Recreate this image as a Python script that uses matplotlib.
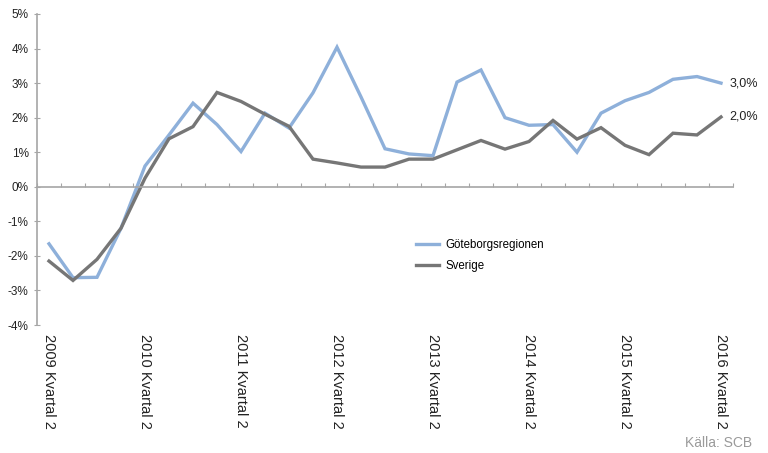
import matplotlib.pyplot as plt
import matplotlib.transforms as mtransforms

plt.rcParams['font.family'] = ['Liberation Sans', 'DejaVu Sans']

# kvartal 2009 K2 .. 2016 K2
years = list(range(2009, 2017))
n_quarters = 29
tick_labels = [f'{y} Kvartal 2' for y in years]

goteborg = [-1.65, -2.63, -2.62, -1.2, 0.6, 1.5, 2.42, 1.8, 1.02, 2.13,
            1.7, 2.72, 4.04, 2.6, 1.1, 0.95, 0.9, 3.03, 3.38, 2.0,
            1.78, 1.8, 1.0, 2.13, 2.49, 2.73, 3.11, 3.19, 3.0]
sverige = [-2.15, -2.71, -2.1, -1.2, 0.25, 1.39, 1.74, 2.73, 2.47, 2.1,
           1.75, 0.8, 0.69, 0.57, 0.57, 0.8, 0.8, 1.07, 1.34, 1.09,
           1.31, 1.92, 1.38, 1.71, 1.2, 0.93, 1.55, 1.5, 2.02]

blue = '#8eb0da'
grey = '#767676'
axis_col = '#a6a6a6'

fig = plt.figure(figsize=(7.68, 4.53), dpi=100)
ax = fig.add_axes([37/768, 1 - 325/453, (733-37)/768, (325-14)/453])

x = list(range(n_quarters))
ax.plot(x, goteborg, color=blue, lw=2.4, label='Göteborgsregionen', solid_joinstyle='miter')
ax.plot(x, sverige, color=grey, lw=2.4, label='Sverige', solid_joinstyle='miter')

ax.set_xlim(-0.5, n_quarters - 0.5)
ax.set_ylim(-4, 5)
ax.set_yticks(range(-4, 6))
ax.set_yticklabels([f'{v}%' for v in range(-4, 6)], fontsize=8.5, color='#222222')

for s in ['top', 'right']:
    ax.spines[s].set_visible(False)
ax.spines['left'].set_color(axis_col)
ax.spines['bottom'].set_color(axis_col)
ax.spines['bottom'].set_position(('data', 0))
ax.spines['left'].set_linewidth(1.2)
ax.spines['bottom'].set_linewidth(1.2)

ax.set_xticks([i - 0.5 for i in range(n_quarters + 1)])
ax.set_xticklabels([])
ax.tick_params(axis='x', direction='in', length=3, color=axis_col)
ax.tick_params(axis='y', direction='inout', length=4, color=axis_col, pad=4)

trans = mtransforms.blended_transform_factory(ax.transData, ax.transAxes)
for i, lab in enumerate(tick_labels):
    ax.text(i * 4, -0.03, lab, transform=trans, rotation=270,
            ha='center', va='top', fontsize=10.5, color='#222222')

# slutvärden
ax.text(n_quarters - 1 + 0.35, goteborg[-1], f'{goteborg[-1]:.1f}%'.replace('.', ','),
        va='center', ha='left', fontsize=9, color='#222222')
ax.text(n_quarters - 1 + 0.35, sverige[-1], f'{sverige[-1]:.1f}%'.replace('.', ','),
        va='center', ha='left', fontsize=9, color='#222222')

leg = ax.legend(loc='upper left', bbox_to_anchor=(406/768, 1 - 229/453),
                bbox_transform=fig.transFigure, frameon=False, fontsize=8.3,
                handlelength=2.0, handletextpad=0.5, labelspacing=0.75)

fig.text(752/768, 1 - 443/453, 'Källa: SCB', ha='right', va='center',
         fontsize=10, color='#9a9a9a')

fig.savefig('out.png', dpi=100)
